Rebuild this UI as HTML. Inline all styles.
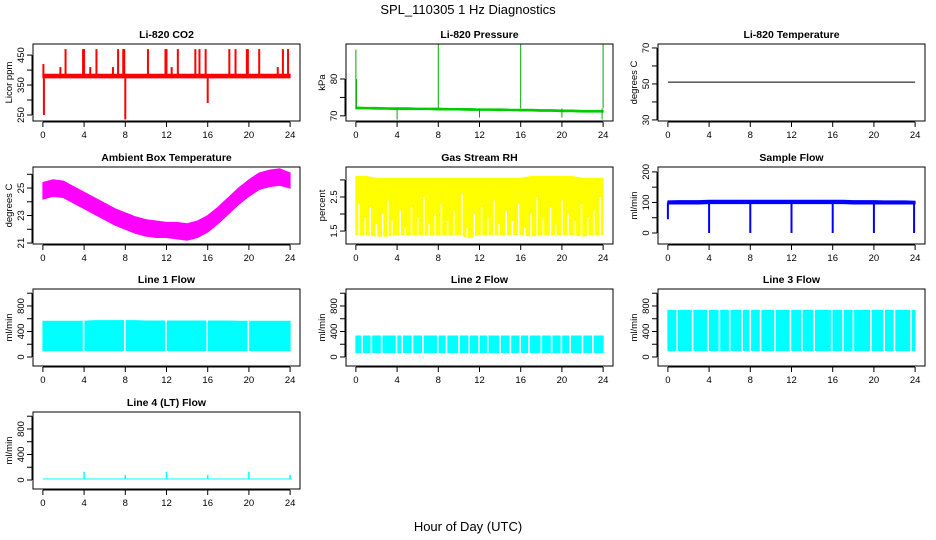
<!DOCTYPE html>
<html><head><meta charset="utf-8"><style>
html,body{margin:0;padding:0;background:#fff;}
svg{display:block;font-family:"Liberation Sans",sans-serif;}
</style></head><body>
<svg id="chart" width="936" height="540" viewBox="0 0 936 540" xmlns="http://www.w3.org/2000/svg">
<text x="468" y="14" text-anchor="middle" font-size="13">SPL_110305  1 Hz Diagnostics</text>
<text x="468" y="531" text-anchor="middle" font-size="13">Hour of Day (UTC)</text>
</svg>
<script>
// ---- data arrays ----
const hours = [0,1,2,3,4,5,6,7,8,9,10,11,12,13,14,15,16,17,18,19,20,21,22,23,24];
const xTicks = [0,4,8,12,16,20,24];
// CO2
const co2Lo = [374,374,374,374,374,374,374,374,374,374,374,374,374,374,374,374,374,374,374,374,374,374,374,374,374];
const co2Hi = [386,386,386,386,386,386,386,386,386,386,386,386,386,386,386,386,386,386,386,386,386,386,386,386,386];
const co2SpikeT = [0.05,0.1,1.7,2.2,3.9,4.0,4.6,5.2,6.8,7.3,7.8,7.9,8.0,10.2,11.9,12.0,12.5,13.1,14.8,15.2,15.8,16.0,18.1,18.7,19.8,19.9,21.0,22.8,23.3,23.8];
const co2SpikeV = [420,250,410,470,470,470,410,470,410,470,470,470,235,470,470,470,410,470,470,470,470,290,470,470,470,470,470,410,470,470];
// Pressure
const presLo = [71.9,71.9,71.8,71.8,71.7,71.7,71.7,71.7,71.6,71.6,71.6,71.5,71.5,71.5,71.4,71.4,71.3,71.3,71.2,71.2,71.1,71.1,71.0,71.0,71.0];
const presHi = [72.4,72.3,72.3,72.2,72.2,72.2,72.1,72.1,72.1,72.0,72.0,72.0,71.9,71.9,71.9,71.8,71.8,71.8,71.7,71.7,71.6,71.6,71.5,71.5,71.5];
const presSpikeT = [0.0,0.05,4.0,8.0,12.0,16.0,20.0,24.0,23.9];
const presSpikeV = [88,80,69,89.5,69.5,89.5,69.5,89.5,69];
// Li-820 temperature
const liTemp = [51,51,51,51,51,51,51,51,51,51,51,51,51,51,51,51,51,51,51,51,51,51,51,51,51];
// Ambient box temperature
const ambHi = [25.4,25.6,25.5,25.1,24.7,24.3,23.9,23.5,23.2,22.9,22.7,22.6,22.5,22.5,22.4,22.6,23.0,23.6,24.3,25.0,25.6,26.1,26.3,26.4,26.1];
const ambLo = [24.2,24.4,24.3,23.9,23.5,23.1,22.7,22.3,22.0,21.7,21.5,21.4,21.4,21.3,21.2,21.4,21.8,22.4,23.1,23.8,24.4,24.9,25.1,25.2,25.0];
// Gas stream RH
const rhHi = [3.1,3.1,3.05,3.05,3.05,3.05,3.05,3.05,3.05,3.05,3.05,3.05,3.05,3.05,3.05,3.05,3.05,3.1,3.1,3.1,3.1,3.1,3.05,3.05,3.05];
const rhLo = [1.4,1.4,1.35,1.35,1.4,1.4,1.4,1.4,1.4,1.4,1.4,1.3,1.4,1.4,1.4,1.4,1.4,1.35,1.4,1.4,1.4,1.4,1.35,1.4,1.4];
const rhGapT = [0.3,0.9,1.4,2.0,2.6,3.1,3.5,4.3,4.8,5.4,6.0,6.6,7.1,7.7,8.3,8.9,9.5,10.3,10.8,11.5,12.2,12.8,13.4,13.9,14.6,15.2,15.8,16.4,17.0,17.6,18.2,18.9,19.4,20.0,20.6,21.3,21.9,22.5,23.1,23.7];
const rhGapV = [2.3,1.9,2.2,1.7,2.0,2.4,1.8,2.1,1.6,2.2,1.9,2.5,1.7,2.0,2.3,1.8,2.1,2.6,1.6,2.0,2.2,1.9,2.4,1.7,2.1,1.8,2.3,1.6,2.0,2.5,1.9,2.2,1.7,2.4,2.0,1.8,2.3,1.9,2.1,2.5];
// Sample flow
const sfHi = [105,106,106,106,107,107,107,107,107,107,107,107,107,107,107,107,107,107,106,106,106,105,105,105,104];
const sfLo = [95,95,95,95,96,96,96,96,96,96,96,96,96,96,96,96,96,96,95,95,95,95,95,95,95];
const sfDipT = [0.0,4.0,8.0,12.0,16.0,20.0,23.9];
const sfDipV = [45,0,0,0,0,0,0];
// Line flows
const l1Hi = [560,560,560,560,560,570,570,570,570,570,565,565,565,565,565,565,565,565,565,560,560,560,560,560,560];
const l1Lo = [100,100,100,100,100,100,100,100,100,100,100,100,100,100,100,100,100,100,100,100,100,100,100,100,100];
const l1GapT = [3.95,7.95,11.95,15.95,19.95];
const l2Hi = [330,330,330,330,330,330,330,330,330,330,330,330,330,330,330,330,330,330,330,330,330,330,330,330,330];
const l2Lo = [70,70,70,70,70,70,70,70,70,70,70,70,70,70,70,70,70,70,70,70,70,70,70,70,70];
const l2GapT = [0.6,1.5,2.5,3.95,4.5,5.5,6.5,7.95,8.8,10.0,11.0,11.95,12.8,14.0,15.0,15.95,16.8,18.0,19.0,19.95,20.8,22.0,23.0];
const l3Hi = [730,730,730,730,730,730,730,730,730,730,730,730,730,730,730,730,730,730,730,730,730,730,730,730,730];
const l3Lo = [100,100,100,100,100,100,100,100,100,100,100,100,100,100,100,100,100,100,100,100,100,100,100,100,100];
const l3GapT = [0.9,2.4,3.9,5.0,6.0,7.2,8.0,9.0,10.4,11.9,13.0,14.2,15.9,17.0,18.0,19.7,21.0,22.0,23.6];
const l4Hi = [15,15,15,15,15,15,15,15,15,15,15,15,15,15,15,15,15,15,15,15,15,15,15,15,15];
const l4SpikeT = [4.0,8.0,12.0,16.0,20.0,24.0];
const l4SpikeV = [130,80,130,80,130,80];

// ---- drawing ----
const NS = "http://www.w3.org/2000/svg";
const svg = document.getElementById("chart");
function mk(tag, attrs, parent){
  const e = document.createElementNS(NS, tag);
  for (const k in attrs) e.setAttribute(k, attrs[k]);
  (parent||svg).appendChild(e);
  return e;
}
const cols = [33, 346, 658];
const rows = [44, 167, 289, 412];
const W = 267, H = 77;

function panel(name, col, row, title, ylab, ylim, yTicks, yLabels){
  const x0 = cols[col], y0 = rows[row];
  const g = mk("g", {});
  
  
  const sx = t => x0 + (t + 0.96) / 25.92 * W;
  const sy = v => y0 + H - (v - ylim[0]) / (ylim[1] - ylim[0]) * H;
  const tt = mk("text", {x: x0 + W/2, y: y0 - 6, "text-anchor": "middle", "font-size": 10.5, "font-weight": "bold"}, g);
  tt.textContent = title;
  
  
  const yl = mk("text", {x: 0, y: 0, "text-anchor": "middle", "font-size": 9.5, transform: `translate(${x0-21},${y0+H/2}) rotate(-90)`}, g);
  yl.textContent = ylab;
  
  
  const plot = mk("g", {}, g);
  
  
  const box = mk("rect", {x: x0, y: y0, width: W, height: H, fill: "none", stroke: "#000", "stroke-width": 1}, g);
  
  
  const xa = mk("g", {}, g);
  
  
  mk("line", {x1: sx(0), x2: sx(24), y1: y0+H+1, y2: y0+H+1, stroke: "#000"}, xa);
  xTicks.forEach(t => {
    mk("line", {x1: sx(t), x2: sx(t), y1: y0+H+1, y2: y0+H+6, stroke: "#000"}, xa);
    const l = mk("text", {x: sx(t), y: y0+H+17, "text-anchor": "middle", "font-size": 9.5}, xa);
    l.textContent = t;
  });
  const ya = mk("g", {}, g);
  
  
  mk("line", {x1: x0-1, x2: x0-1, y1: sy(yTicks[0]), y2: sy(yTicks[yTicks.length-1]), stroke: "#000"}, ya);
  yTicks.forEach((v, i) => {
    mk("line", {x1: x0-6, x2: x0-1, y1: sy(v), y2: sy(v), stroke: "#000"}, ya);
    if (yLabels[i] !== "") {
      const l = mk("text", {x: 0, y: 0, "text-anchor": "middle", "font-size": 9.5, transform: `translate(${x0-9},${sy(v)}) rotate(-90)`}, ya);
      l.textContent = yLabels[i];
    }
  });
  return {plot, sx, sy};
}
function band(p, lo, hi, color){
  let d = "";
  hours.forEach((t, i) => { d += (i ? "L" : "M") + p.sx(t) + "," + p.sy(hi[i]); });
  for (let i = hours.length - 1; i >= 0; i--) d += "L" + p.sx(hours[i]) + "," + p.sy(lo[i]);
  const e = mk("path", {d: d + "Z", fill: color, stroke: color, "stroke-width": 1}, p.plot);
  
  
}
function line(p, vals, color){
  const d = hours.map((t, i) => (i ? "L" : "M") + p.sx(t) + "," + p.sy(vals[i])).join("");
  const e = mk("path", {d, fill: "none", stroke: color, "stroke-width": 1}, p.plot);
  
  
}
function spikes(p, ts, vs, base, color, w){
  ts.forEach((t, i) => {
    const e = mk("line", {x1: p.sx(t), x2: p.sx(t), y1: p.sy(base), y2: p.sy(vs[i]), stroke: color, "stroke-width": w||1.5}, p.plot);
    
    
  });
}
function gaps(p, ts, lo, hi){
  ts.forEach(t => {
    const e = mk("line", {x1: p.sx(t), x2: p.sx(t), y1: p.sy(lo), y2: p.sy(hi), stroke: "#fff", "stroke-width": 1.6}, p.plot);
    
    
  });
}
const flowTicks = [0,200,400,600,800,1000], flowLabels = ["0","","400","","800",""];

let p = panel("co2", 0, 0, "Li-820 CO2", "Licor ppm", [230, 487], [250,300,350,400,450], ["250","","350","","450"]);
band(p, co2Lo, co2Hi, "#ff0000");
spikes(p, co2SpikeT, co2SpikeV, 380, "#ff0000", 2);

p = panel("pressure", 1, 0, "Li-820 Pressure", "kPa", [68.6, 89.5], [70,75,80], ["70","","80"]);
band(p, presLo, presHi, "#00cc00");
spikes(p, presSpikeT, presSpikeV, 72, "#00aa00", 1);

p = panel("li820-temp", 2, 0, "Li-820 Temperature", "degrees C", [29.4, 72.2], [30,40,50,60,70], ["30","","50","","70"]);
line(p, liTemp, "#000");

p = panel("ambient-temp", 0, 1, "Ambient Box Temperature", "degrees C", [20.93, 26.53], [21,22,23,24,25,26], ["21","","23","","25",""]);
band(p, ambLo, ambHi, "#ff00ff");

p = panel("gas-rh", 1, 1, "Gas Stream RH", "percent", [1.12, 3.38], [1.5,2.0,2.5,3.0], ["1.5","","2.5",""]);
band(p, rhLo, rhHi, "#ffff00");
rhGapT.forEach((t, i) => {
  const e = mk("line", {x1: p.sx(t), x2: p.sx(t), y1: p.sy(1.3), y2: p.sy(rhGapV[i]), stroke: "#fff", "stroke-width": 1.5}, p.plot);
  
  
});

p = panel("sample-flow", 2, 1, "Sample Flow", "ml/min", [-36, 216], [0,50,100,150,200], ["0","","100","","200"]);
band(p, sfLo, sfHi, "#0000ff");
spikes(p, sfDipT, sfDipV, 100, "#0000ff", 2);

p = panel("line1-flow", 0, 2, "Line 1 Flow", "ml/min", [-141, 1066], flowTicks, flowLabels);
band(p, l1Lo, l1Hi, "#00ffff");
gaps(p, l1GapT, 90, 580);

p = panel("line2-flow", 1, 2, "Line 2 Flow", "ml/min", [-141, 1066], flowTicks, flowLabels);
band(p, l2Lo, l2Hi, "#00ffff");
gaps(p, l2GapT, 60, 340);

p = panel("line3-flow", 2, 2, "Line 3 Flow", "ml/min", [-141, 1066], flowTicks, flowLabels);
band(p, l3Lo, l3Hi, "#00ffff");
gaps(p, l3GapT, 90, 740);

p = panel("line4-flow", 0, 3, "Line 4 (LT) Flow", "ml/min", [-141, 1066], flowTicks, flowLabels);
line(p, l4Hi, "#00ffff");
spikes(p, l4SpikeT, l4SpikeV, 10, "#00ffff", 1.5);
</script>
</body></html>
